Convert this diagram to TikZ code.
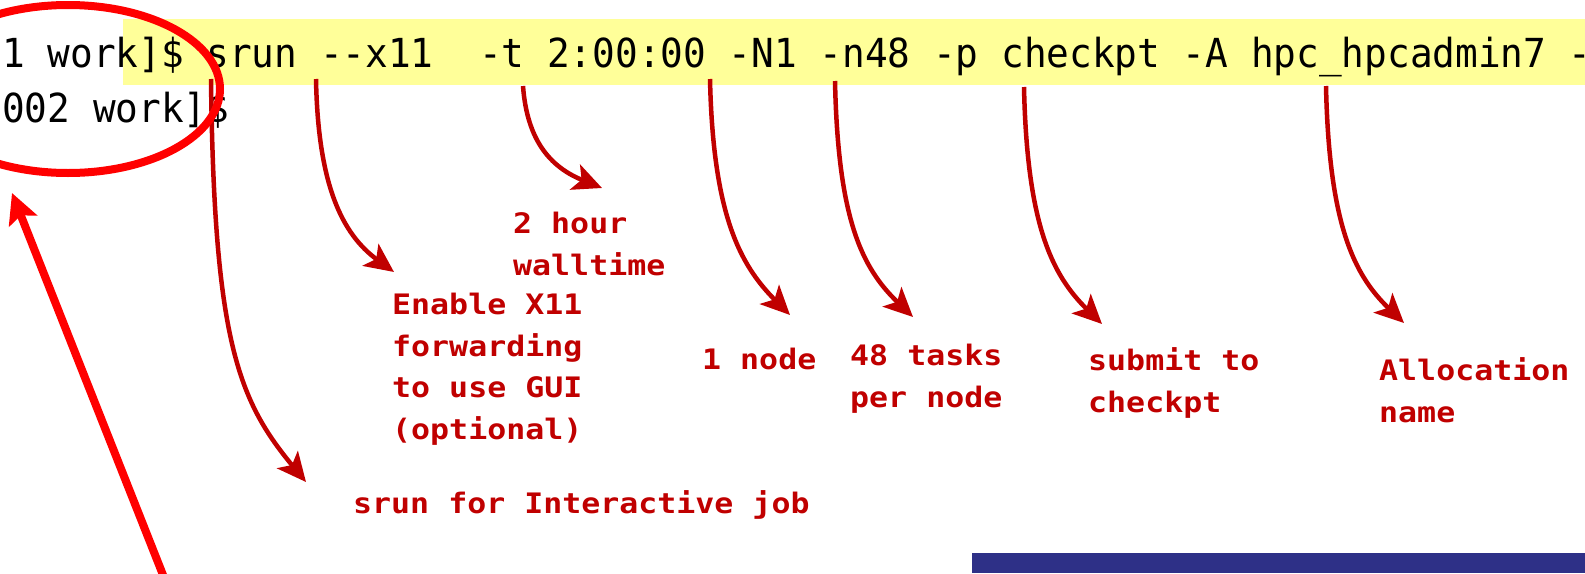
\documentclass[tikz,border=0pt]{standalone}
\usepackage{fontspec}
\usetikzlibrary{arrows.meta}
\newfontfamily\termfont[FakeStretch=0.943,Ligatures=TeXOff]{DejaVu Sans Mono}
\newfontfamily\notefont[FakeStretch=1.12,Ligatures=TeXOff]{DejaVu Sans Mono}
\definecolor{termyellow}{RGB}{255,255,153}
\definecolor{notered}{RGB}{192,0,0}
\definecolor{markred}{RGB}{255,0,0}
\definecolor{slideblue}{RGB}{46,48,135}
\tikzset{
  term/.style={anchor=base west,inner sep=0pt,font=\termfont\fontsize{40}{55}\selectfont},
  note/.style={anchor=base west,inner sep=0pt,text=notered,align=left,
    font=\notefont\bfseries\fontsize{28.2}{41.5}\selectfont},
  note arrow/.style={draw=notered,line width=4.5pt,-{Stealth[length=29pt,width=27pt,inset=7pt]}},
}
\begin{document}
\begin{tikzpicture}[x=1pt,y=-1pt]
  \useasboundingbox (0,0) rectangle (1585,573);
  % highlighted command line
  \fill[termyellow] (123,19) rectangle (1585,85);
  \node[term] (cmd) at (2,67) {1 work]\$ srun --x11\ \ -t 2:00:00 -N1 -n48 -p checkpt -A hpc\_hpcadmin7 -};
  \node[term] (prompt) at (2,122) {002 work]\$};
  % where each option sits in the command
  \coordinate (s1) at (211,79);
  \coordinate (s2) at (316,79);
  \coordinate (s3) at (523,86);
  \coordinate (s4) at (710,79);
  \coordinate (s5) at (835,81);
  \coordinate (s6) at (1024,87);
  \coordinate (s7) at (1326,86);
  % arrow tips above the notes
  \coordinate (t1) at (306,482);
  \coordinate (t2) at (394,272);
  \coordinate (t3) at (602,188);
  \coordinate (t4) at (790,315);
  \coordinate (t5) at (913,317);
  \coordinate (t6) at (1102,324);
  \coordinate (t7) at (1404,323);
  % notes (anchored at the baseline of their last line)
  \node[note] (walltime) at (513,275) {2 hour\\walltime};
  \node[note] (x11) at (392,439) {Enable X11\\forwarding\\to use GUI\\(optional)};
  \node[note] (nodes) at (702,369) {1 node};
  \node[note] (tasks) at (850,407) {48 tasks\\per node};
  \node[note] (queue) at (1088,412) {submit to\\checkpt};
  \node[note] (alloc) at (1379,422) {Allocation\\name};
  \node[note] (interactive) at (353,513) {srun for Interactive job};
  % curved pointers
  \draw[note arrow] (s1) .. controls (214,340) and (238,400) .. (t1);
  \draw[note arrow] (s2) .. controls (318,185) and (342,234) .. (t2);
  \draw[note arrow] (s3) .. controls (527,140) and (550,167) .. (t3);
  \draw[note arrow] (s4) .. controls (713,215) and (740,265) .. (t4);
  \draw[note arrow] (s5) .. controls (838,220) and (862,268) .. (t5);
  \draw[note arrow] (s6) .. controls (1027,225) and (1052,275) .. (t6);
  \draw[note arrow] (s7) .. controls (1329,225) and (1354,275) .. (t7);
  % circled prompt and its pointer
  \draw[markred,line width=8pt] (68,89) ellipse [x radius=152,y radius=84];
  \coordinate (mtail) at (165,580);
  \coordinate (mtip) at (12,193);
  \draw[markred,line width=8pt,-{Stealth[length=30pt,width=30pt,inset=6pt]}] (mtail) -- (mtip);
  % slide bar
  \fill[slideblue] (972,553) rectangle (1585,573);
\end{tikzpicture}
\end{document}
